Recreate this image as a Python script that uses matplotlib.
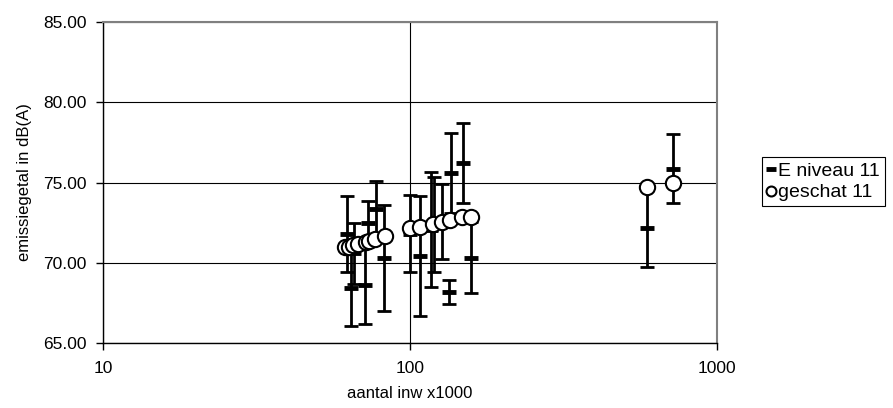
import matplotlib
matplotlib.use("Agg")
import matplotlib.pyplot as plt
from matplotlib.ticker import FixedLocator, FuncFormatter, NullLocator

plt.rcParams['font.family'] = ['Liberation Sans', 'DejaVu Sans']

# E niveau 11: position, level, error (+/-)
x_e = [62.2, 64.2, 65.7, 71.4, 73.1, 77.2, 82.5,
       100.0, 107.8, 117.1, 119.7, 126.9, 134.0, 135.5, 149.2, 158.0,
       592.9, 719.1]
e_niveau = [71.8, 68.4, 70.6, 68.6, 72.46, 73.37, 70.28,
            71.81, 70.42, 72.07, 72.4, 72.56, 68.2, 75.57, 76.23, 70.31,
            72.18, 75.86]
e_err = [2.37, 2.35, 1.9, 2.4, 1.4, 1.75, 3.3,
         2.41, 3.74, 3.6, 2.96, 2.35, 0.75, 2.5, 2.5, 2.21,
         2.45, 2.14]

# geschat 11
x_g = [61.4, 63.4, 65.1, 67.8, 71.9, 73.7, 76.9, 82.9,
       100.0, 107.8, 118.8, 126.9, 135.0, 147.4, 158.0,
       592.9, 719.1]
geschat = [70.96, 71.0, 71.1, 71.17, 71.31, 71.37, 71.5, 71.69,
           72.15, 72.25, 72.41, 72.56, 72.66, 72.83, 72.87,
           74.74, 74.95]

fig = plt.figure(figsize=(8.93, 4.08), dpi=100)
ax = fig.add_axes([0.1153, 0.1593, 0.6877, 0.7867])

ax.errorbar(x_e, e_niveau, yerr=e_err, fmt='none', ecolor='black',
            elinewidth=2.0, capsize=5, capthick=2.0, zorder=3)
ax.plot(x_e, e_niveau, linestyle='none', marker='_', markersize=10,
        markeredgewidth=3.5, color='black', label='E niveau 11', zorder=4)
ax.plot(x_g, geschat, linestyle='none', marker='o', markersize=11,
        markerfacecolor='white', markeredgecolor='black',
        markeredgewidth=1.5, label='geschat 11', zorder=5)

ax.set_xscale('log')
ax.set_xlim(10, 1000)
ax.set_ylim(65, 85)
ax.xaxis.set_major_locator(FixedLocator([10, 100, 1000]))
ax.xaxis.set_minor_locator(NullLocator())
ax.xaxis.set_major_formatter(FuncFormatter(lambda v, p: f"{v:g}"))
ax.set_yticks([65, 70, 75, 80, 85])
ax.yaxis.set_major_formatter(FuncFormatter(lambda v, p: f"{v:.2f}"))

ax.grid(True, which='major', color='black', linewidth=0.8)
ax.set_axisbelow(True)
for s in ['left', 'bottom']:
    ax.spines[s].set_color('black')
    ax.spines[s].set_linewidth(1.0)
for s in ['top', 'right']:
    ax.spines[s].set_color('#808080')
    ax.spines[s].set_linewidth(1.5)

ax.tick_params(axis='both', direction='out', length=5, width=1,
               labelsize=12.5, colors='black')
ax.tick_params(axis='x', pad=8)
ax.tick_params(axis='y', pad=7)
ax.set_xlabel('aantal inw x1000', fontsize=12, labelpad=7)
ax.set_ylabel('emissiegetal in dB(A)', fontsize=12, labelpad=8)

leg = fig.legend(loc='upper left', bbox_to_anchor=(0.853, 0.615),
                 frameon=True, fancybox=False, edgecolor='black',
                 framealpha=1, fontsize=14, handlelength=0.45,
                 handletextpad=0.15, markerscale=0.65, borderpad=0.25,
                 borderaxespad=0, labelspacing=0.22)
leg.get_frame().set_linewidth(0.8)

fig.savefig('out.png', dpi=100)
